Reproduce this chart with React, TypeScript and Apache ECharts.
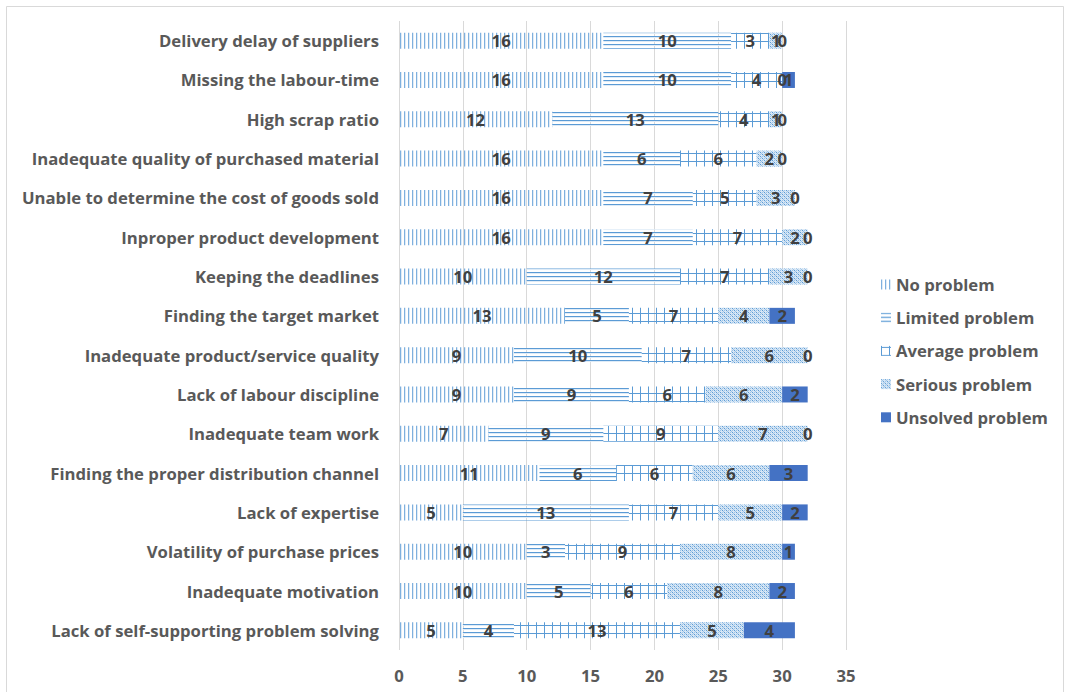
import React, { useEffect, useRef } from "react";
import * as echarts from "echarts";

const categories = [
  "Delivery delay of suppliers",
  "Missing the labour-time",
  "High scrap ratio",
  "Inadequate quality of purchased material",
  "Unable to determine the cost of goods sold",
  "Inproper product development",
  "Keeping the deadlines",
  "Finding the target market",
  "Inadequate product/service quality",
  "Lack of labour discipline",
  "Inadequate team work",
  "Finding the proper distribution channel",
  "Lack of expertise",
  "Volatility of purchase prices",
  "Inadequate motivation",
  "Lack of self-supporting problem solving",
];

const seriesNames = [
  "No problem",
  "Limited problem",
  "Average problem",
  "Serious problem",
  "Unsolved problem",
];

const noProblem = [16, 16, 12, 16, 16, 16, 10, 13, 9, 9, 7, 11, 5, 10, 10, 5];
const limitedProblem = [10, 10, 13, 6, 7, 7, 12, 5, 10, 9, 9, 6, 13, 3, 5, 4];
const averageProblem = [3, 4, 4, 6, 5, 7, 7, 7, 7, 6, 9, 6, 7, 9, 6, 13];
const seriousProblem = [1, 0, 1, 2, 3, 2, 3, 4, 6, 6, 7, 6, 5, 8, 8, 5];
const unsolvedProblem = [0, 1, 0, 0, 0, 0, 0, 2, 0, 2, 0, 3, 2, 1, 2, 4];

const xTicks = [0, 5, 10, 15, 20, 25, 30, 35];

const FONT = "'Open Sans', Lato, sans-serif";
const FS = 16.7;
const BLUE = "#5B9BD5";

function makePattern(w: number, h: number, draw: (ctx: CanvasRenderingContext2D) => void) {
  const c = document.createElement("canvas");
  c.width = w;
  c.height = h;
  const ctx = c.getContext("2d")!;
  draw(ctx);
  return { image: c, repeat: "repeat" } as any;
}

export default function App() {
  const ref = useRef<HTMLDivElement>(null);

  useEffect(() => {
    if (!ref.current) return;
    const chart = echarts.init(ref.current, undefined, { renderer: "svg" });

    const pNo = makePattern(4, 4, (ctx) => {
      ctx.fillStyle = "#7FB0DE";
      ctx.fillRect(0, 0, 1, 4);
      ctx.fillStyle = "#DEEBF7";
      ctx.fillRect(1, 0, 1, 4);
    });
    const pLimited = makePattern(4, 4, (ctx) => {
      ctx.fillStyle = BLUE;
      ctx.fillRect(0, 0, 4, 1);
      ctx.fillStyle = "#DEEBF7";
      ctx.fillRect(0, 1, 4, 1);
    });
    const pAverage = makePattern(8, 8, (ctx) => {
      ctx.fillStyle = BLUE;
      ctx.fillRect(0, 0, 1, 8);
      ctx.fillRect(0, 1, 8, 1);
    });
    const pSerious = makePattern(4, 4, (ctx) => {
      ctx.fillStyle = "#D6E6F5";
      ctx.fillRect(0, 0, 4, 4);
      ctx.fillStyle = BLUE;
      ctx.fillRect(0, 0, 1, 1);
      ctx.fillRect(2, 2, 1, 1);
      ctx.fillStyle = "#9DC3E6";
      ctx.fillRect(2, 0, 1, 1);
      ctx.fillRect(0, 2, 1, 1);
      ctx.fillRect(1, 1, 1, 1);
      ctx.fillRect(3, 3, 1, 1);
    });
    const colors = [pNo, pLimited, pAverage, pSerious, "#4472C4"];
    const data = [noProblem, limitedProblem, averageProblem, seriousProblem, unsolvedProblem];

    chart.setOption({
      animation: false,
      backgroundColor: "#ffffff",
      grid: { left: 399, right: 219, top: 21, bottom: 42 },
      legend: {
        orient: "vertical",
        left: 876,
        top: 271,
        icon: "rect",
        itemWidth: 10,
        itemHeight: 10,
        itemGap: 16.2,
        data: seriesNames,
        textStyle: { fontFamily: FONT, fontSize: FS, fontWeight: "bold", color: "#595959" },
      },
      xAxis: {
        type: "value",
        min: 0,
        max: 35,
        interval: 5,
        axisLine: { show: false },
        axisTick: { show: false },
        splitLine: { show: true, lineStyle: { color: "#D9D9D9", width: 1 } },
        axisLabel: {
          margin: 17,
          fontFamily: FONT,
          fontSize: FS,
          fontWeight: "bold",
          color: "#595959",
          formatter: (v: number) => (xTicks.includes(v) ? String(v) : ""),
        },
      },
      yAxis: {
        type: "category",
        inverse: true,
        data: categories,
        axisLine: { show: false },
        axisTick: { show: false },
        axisLabel: {
          margin: 20,
          fontFamily: FONT,
          fontSize: FS,
          fontWeight: "bold",
          color: "#595959",
        },
      },
      graphic: [
        {
          type: "rect",
          shape: { x: 6.5, y: 6.5, width: 1057, height: 700 },
          style: { fill: "none", stroke: "#D9D9D9", lineWidth: 1 },
          silent: true,
        },
      ],
      series: seriesNames.map((name, i) => ({
        name,
        type: "bar",
        stack: "total",
        barWidth: 16,
        data: data[i],
        itemStyle: { color: colors[i] },
        label: {
          show: true,
          position: "inside",
          color: "#404040",
          fontFamily: FONT,
          fontSize: FS,
          fontWeight: "bold",
          formatter: "{c}",
        },
      })),
    });

    return () => chart.dispose();
  }, []);

  return (
    <div
      ref={ref}
      style={{ position: "fixed", left: 0, top: 0, width: 1065, height: 692 }}
    />
  );
}
